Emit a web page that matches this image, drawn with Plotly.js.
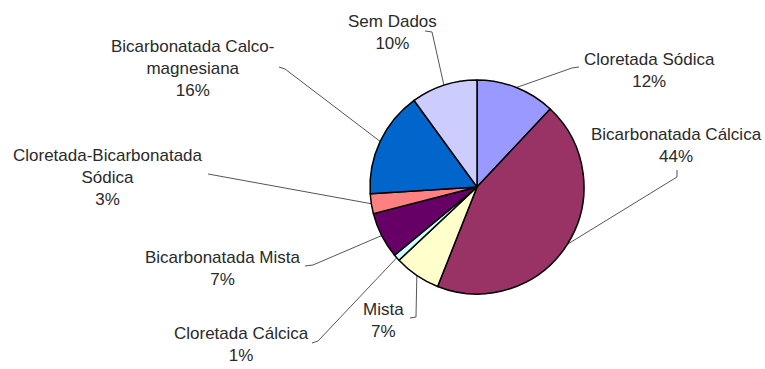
<!DOCTYPE html>
<html>
<head>
<meta charset="utf-8">
<script src="https://cdn.plot.ly/plotly-3.0.1.min.js"></script>
<style>html,body{margin:0;padding:0;background:#fff;}#chart{width:765px;height:369px;}</style>
</head>
<body>
<div id="chart"></div>
<script>
// Data (clockwise from 12 o'clock)
const categories = ["Cloretada Sódica", "Bicarbonatada Cálcica", "Mista", "Cloretada Cálcica",
  "Bicarbonatada Mista", "Cloretada-Bicarbonatada Sódica", "Bicarbonatada Calco-magnesiana", "Sem Dados"];
const values = [12, 44, 7, 1, 7, 3, 16, 10];
const labelTexts = ["Cloretada Sódica", "Bicarbonatada Cálcica", "Mista", "Cloretada Cálcica",
  "Bicarbonatada Mista", "Cloretada-Bicarbonatada<br>Sódica", "Bicarbonatada Calco-<br>magnesiana", "Sem Dados"];
const colors = ["#9999FF", "#993366", "#FFFFCC", "#CCFFFF", "#660066", "#FF8080", "#0066CC", "#CCCCFF"];

// Layout (pixels)
const W = 765, H = 369;
const cx = 477, cy = 187, R = 107;
// label block centres and leader-line anchor points near the text
const labelPos = [[649, 70], [676, 145], [383, 320], [241, 344], [223, 268], [108, 178], [192, 68], [393, 32]];
const anchors = [
  [[579, 67], [572, 68]],
  [[677, 170], [677, 177]],
  [[410, 318], [416, 317]],
  [[312, 343], [318, 341]],
  [[305, 266], [313, 265]],
  [[208, 174]],
  [[279, 67], [285, 69]],
  [[425, 31], [432, 32]]
];

const px = x => x / W;
const py = y => 1 - y / H;

const total = values.reduce((a, b) => a + b, 0);
let cum = 0;
const shapes = [];
const annotations = [];
values.forEach((v, i) => {
  const mid = (cum + v / 2) / total * 2 * Math.PI;
  cum += v;
  const ex = cx + R * Math.sin(mid), ey = cy - R * Math.cos(mid);
  const pts = anchors[i].concat([[ex, ey]]);
  const path = pts.map((p, k) => (k ? "L" : "M") + px(p[0]).toFixed(5) + "," + py(p[1]).toFixed(5)).join(" ");
  shapes.push({type: "path", xref: "paper", yref: "paper", path: path,
    line: {color: "#555", width: 1}, layer: "below"});
  const pct = Math.round(v / total * 100) + "%";
  annotations.push({xref: "paper", yref: "paper", x: px(labelPos[i][0]), y: py(labelPos[i][1]),
    xanchor: "center", yanchor: "middle", align: "center", showarrow: false,
    text: labelTexts[i] + "<br>" + pct,
    font: {family: "Liberation Sans, Arial, sans-serif", size: 17, color: "#2a2a2a"}});
});

const trace = {
  type: "pie",
  labels: categories,
  values: values,
  sort: false,
  direction: "clockwise",
  rotation: 0,
  textinfo: "none",
  hoverinfo: "label+percent",
  marker: {colors: colors, line: {color: "#000", width: 1.5}},
  domain: {x: [px(cx - R), px(cx + R)], y: [py(cy + R), py(cy - R)]},
  showlegend: false
};

const layout = {
  width: W, height: H,
  margin: {l: 0, r: 0, t: 0, b: 0},
  paper_bgcolor: "#fff",
  plot_bgcolor: "#fff",
  showlegend: false,
  shapes: shapes,
  annotations: annotations
};

Plotly.newPlot("chart", [trace], layout, {displayModeBar: false, staticPlot: true});
</script>
</body>
</html>
